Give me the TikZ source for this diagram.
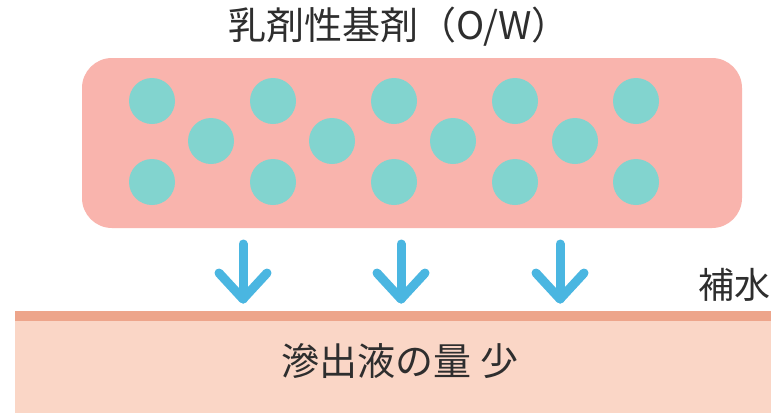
\documentclass[tikz,border=0pt]{standalone}
\usepackage{fontspec}
\newfontfamily\cjk{Noto Sans CJK JP}
\definecolor{emul}{HTML}{F9B4AD}
\definecolor{drop}{HTML}{82D4CF}
\definecolor{skinline}{HTML}{EDA58B}
\definecolor{skin}{HTML}{FAD6C6}
\definecolor{arr}{HTML}{4AB6E1}
\definecolor{txt}{HTML}{2E2E2E}
\tikzset{
  droplet/.style={circle,fill=drop,minimum size=46pt,inner sep=0pt},
  label/.style={font=\cjk\fontsize{38pt}{40pt}\selectfont,text=txt,inner sep=0pt},
  flow/.style={arr,line width=9pt,line cap=round,line join=round}
}
\begin{document}
\begin{tikzpicture}[x=1pt,y=-1pt]
\useasboundingbox (0,0) rectangle (771,413);
\fill[white] (0,0) rectangle (771,413);
% title
\node[label] (title) at (399,27) {乳剤性基剤（O/W）};
% emulsion base
\node[fill=emul,rounded corners=30pt,minimum width=660pt,minimum height=170pt,inner sep=0pt] (base) at (412,143) {};
% droplets
\foreach \x [count=\i] in {152,273,394,515,636} {
  \node[droplet] (t\i) at (\x,101) {};
  \node[droplet] (b\i) at (\x,182) {};
}
\foreach \x [count=\i] in {211,332,453,575} {
  \node[droplet] (m\i) at (\x,141) {};
}
% skin
\fill[skin] (15,318) rectangle (771,413);
\node[fill=skinline,minimum width=756pt,minimum height=10pt,inner sep=0pt] (line) at (393,316) {};
\node[label] (exud) at (400,361) {滲出液の量 少};
\node[label,font=\cjk\fontsize{36pt}{38pt}\selectfont,anchor=east] (water) at (771,285) {補水};
% arrows
\foreach \x [count=\i] in {243,401,560} {
  \coordinate (s\i) at (\x,244);
  \coordinate (e\i) at (\x,299);
  \coordinate (l\i) at (\x-24,273);
  \coordinate (r\i) at (\x+24,273);
  \draw[flow] (s\i) -- (e\i);
  \draw[flow] (l\i) -- (e\i) -- (r\i);
}
\end{tikzpicture}
\end{document}
